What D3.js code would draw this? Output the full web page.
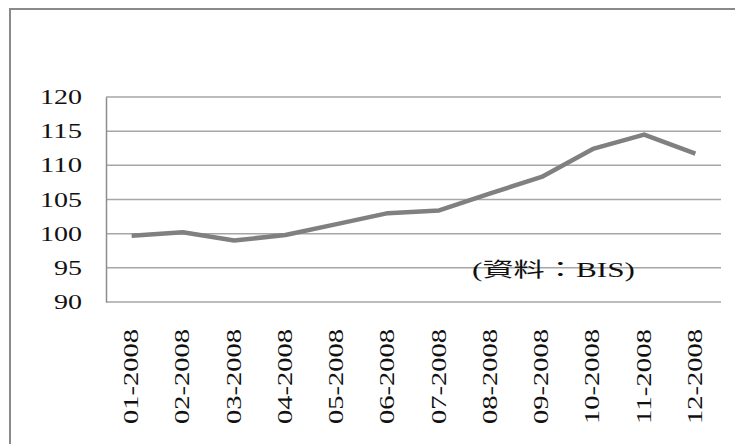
<!DOCTYPE html>
<html>
<head>
<meta charset="utf-8">
<script src="https://cdn.jsdelivr.net/npm/d3@7"></script>
<style>
  body { margin: 0; background: #fff; }
  svg text { font-family: "Liberation Serif", "DejaVu Serif", "Noto Sans CJK TC", serif; fill: #111; }
</style>
</head>
<body>
<div id="chart"></div>
<script>
/* data */
var months = ["01-2008", "02-2008", "03-2008", "04-2008", "05-2008", "06-2008",
              "07-2008", "08-2008", "09-2008", "10-2008", "11-2008", "12-2008"];
var index = [99.7, 100.2, 99.0, 99.8, 101.4, 103.0, 103.4, 105.9, 108.3, 112.4, 114.5, 111.7];
var yTicks = [90, 95, 100, 105, 110, 115, 120];
var note = "(資料：BIS)";

var width = 735, height = 444;
var margin = { left: 106, right: 14, top: 97, bottom: 142 };
var serif = "'Liberation Serif', 'Noto Sans CJK TC', serif";

var svg = d3.select("#chart")
  .append("svg")
  .attr("width", width)
  .attr("height", height);

/* outer frame */
svg.append("path")
  .attr("d", "M10,446 L10,9 L737,9")
  .attr("fill", "none")
  .attr("stroke", "#8a8a8a")
  .attr("stroke-width", 2);

/* Scale */
var xScale = d3.scaleBand()
  .domain(months)
  .range([margin.left, width - margin.right]);

var yScale = d3.scaleLinear()
  .domain([90, 120])
  .range([height - margin.bottom, margin.top]);

/* grid lines */
svg.append("g")
  .attr("class", "grid")
  .selectAll("line")
  .data(yTicks)
  .enter()
  .append("line")
  .attr("x1", margin.left)
  .attr("x2", width - margin.right)
  .attr("y1", d => yScale(d))
  .attr("y2", d => yScale(d))
  .attr("stroke", "#a6a6a6")
  .attr("stroke-width", 1.5);

/* y axis */
var yAxis = d3.axisLeft(yScale).tickValues(yTicks).tickSize(0).tickPadding(24);
var yG = svg.append("g")
  .attr("transform", `translate(${margin.left},0)`)
  .attr("font-family", serif)
  .call(yAxis);
yG.attr("font-family", serif);
yG.select(".domain").attr("stroke", "#8c8c8c").attr("stroke-width", 1.5);
yG.selectAll("text")
  .style("font-family", serif)
  .style("font-size", "20px")
  .attr("dy", "0.33em")
  .attr("textLength", d => String(d).length * 14)
  .attr("lengthAdjust", "spacingAndGlyphs");

/* x axis labels */
var xAxis = d3.axisBottom(xScale).tickSize(0).tickPadding(0);
var xG = svg.append("g")
  .attr("transform", `translate(0,${height - margin.bottom})`)
  .call(xAxis);
xG.attr("font-family", serif);
xG.select(".domain").remove();
xG.selectAll("text")
  .style("font-family", serif)
  .style("font-size", "20px")
  .attr("text-anchor", "end")
  .attr("transform", "rotate(-90)")
  .attr("x", -27)
  .attr("y", 0)
  .attr("dy", "0.33em")
  .attr("textLength", 95)
  .attr("lengthAdjust", "spacingAndGlyphs");

/* line */
var line = d3.line()
  .x((d, i) => xScale(months[i]) + xScale.bandwidth() / 2)
  .y(d => yScale(d));

svg.append("path")
  .datum(index)
  .attr("d", line)
  .attr("fill", "none")
  .attr("stroke", "#808080")
  .attr("stroke-width", 4.5)
  .attr("stroke-linejoin", "round");

/* source note */
svg.append("text")
  .attr("x", 472)
  .attr("y", 277)
  .style("font-family", serif)
  .style("font-size", "20px")
  .attr("textLength", 163)
  .attr("lengthAdjust", "spacingAndGlyphs")
  .text(note);
</script>
</body>
</html>
